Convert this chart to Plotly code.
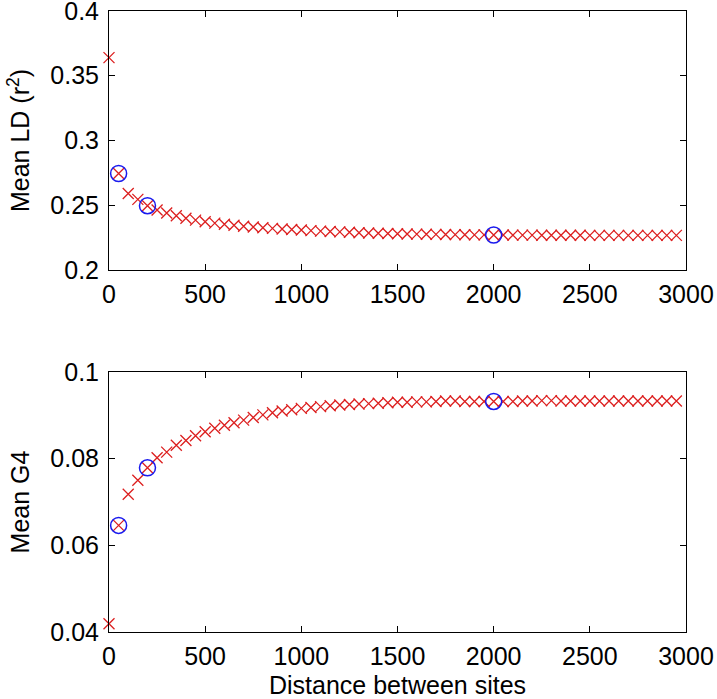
import plotly.graph_objects as go
from plotly.subplots import make_subplots

distance = list(range(0, 3000, 50))

mean_ld = [0.364, 0.2745, 0.259, 0.2545, 0.2496, 0.2463, 0.2440, 0.2418, 0.2400, 0.2385,
           0.2372, 0.2362, 0.2353, 0.2345, 0.2338, 0.2332, 0.2326, 0.2321, 0.2316, 0.2312,
           0.2308, 0.2304, 0.2300, 0.2297, 0.2294, 0.2291, 0.2288, 0.2286, 0.2284, 0.2282,
           0.2280, 0.2278, 0.2277, 0.2276, 0.2275, 0.2274, 0.2273, 0.2272, 0.2271, 0.2271,
           0.2270, 0.2270, 0.2269, 0.2269, 0.2269, 0.2268, 0.2268, 0.2268, 0.2268, 0.2268,
           0.2267, 0.2267, 0.2267, 0.2267, 0.2267, 0.2267, 0.2267, 0.2267, 0.2267, 0.2267]

mean_g4 = [0.0419, 0.0646, 0.0718, 0.0750, 0.0779, 0.0802, 0.0815, 0.0831, 0.0842, 0.0853,
           0.0862, 0.0870, 0.0877, 0.0883, 0.0889, 0.0895, 0.0901, 0.0906, 0.0910, 0.0913,
           0.0916, 0.0918, 0.0920, 0.0922, 0.0924, 0.0925, 0.0926, 0.0927, 0.0928, 0.0929,
           0.0930, 0.0930, 0.0931, 0.0931, 0.0932, 0.0933, 0.0933, 0.0932, 0.0932, 0.0932,
           0.0932, 0.0932, 0.0932, 0.0933, 0.0933, 0.0934, 0.0934, 0.0933, 0.0933, 0.0933,
           0.0933, 0.0933, 0.0933, 0.0933, 0.0933, 0.0933, 0.0933, 0.0933, 0.0933, 0.0933]

highlight_distance = [50, 200, 2000]
highlight_ld = [mean_ld[distance.index(d)] for d in highlight_distance]
highlight_g4 = [mean_g4[distance.index(d)] for d in highlight_distance]

x_ticks = [0, 500, 1000, 1500, 2000, 2500, 3000]
ld_ticks = [0.2, 0.25, 0.3, 0.35, 0.4]
ld_ticktext = ["0.2", "0.25", "0.3", "0.35", "0.4"]
g4_ticks = [0.04, 0.06, 0.08, 0.1]
g4_ticktext = ["0.04", "0.06", "0.08", "0.1"]

RED = "#dc1f1f"
BLUE = "#1a1aee"
FONT = "Liberation Sans, Arial, Helvetica, sans-serif"
TICK_SIZE = 25
TITLE_SIZE = 25

fig = make_subplots(rows=2, cols=1, vertical_spacing=0.165)

fig.add_trace(go.Scatter(x=distance, y=mean_ld, mode="markers", cliponaxis=False,
                         marker=dict(symbol="x-thin-open", size=11, color=RED,
                                     line=dict(color=RED, width=1.3))), row=1, col=1)
fig.add_trace(go.Scatter(x=highlight_distance, y=highlight_ld, mode="markers", cliponaxis=False,
                         marker=dict(symbol="circle-open", size=16, color=BLUE,
                                     line=dict(color=BLUE, width=1.5))), row=1, col=1)
fig.add_trace(go.Scatter(x=distance, y=mean_g4, mode="markers", cliponaxis=False,
                         marker=dict(symbol="x-thin-open", size=11, color=RED,
                                     line=dict(color=RED, width=1.3))), row=2, col=1)
fig.add_trace(go.Scatter(x=highlight_distance, y=highlight_g4, mode="markers", cliponaxis=False,
                         marker=dict(symbol="circle-open", size=16, color=BLUE,
                                     line=dict(color=BLUE, width=1.5))), row=2, col=1)

axis_common = dict(showline=True, linecolor="black", linewidth=1, mirror="ticks",
                   ticks="inside", ticklen=6, tickwidth=1, tickcolor="black",
                   showgrid=False, zeroline=False, ticklabeloverflow="allow",
                   tickfont=dict(family=FONT, size=TICK_SIZE, color="black"))

for r in (1, 2):
    fig.update_xaxes(range=[0, 3000], tickvals=x_ticks, ticktext=[str(v) for v in x_ticks],
                     ticklabelstandoff=2, row=r, col=1, **axis_common)

fig.update_yaxes(range=[0.2, 0.4], tickvals=ld_ticks, ticktext=ld_ticktext,
                 ticklabelstandoff=4, row=1, col=1,
                 title=dict(text="Mean LD (r<sup>2</sup>)",
                            font=dict(family=FONT, size=TITLE_SIZE, color="black"),
                            standoff=13), **axis_common)
fig.update_yaxes(range=[0.04, 0.1], tickvals=g4_ticks, ticktext=g4_ticktext,
                 ticklabelstandoff=4, row=2, col=1,
                 title=dict(text="Mean G4", font=dict(family=FONT, size=TITLE_SIZE, color="black"),
                            standoff=13), **axis_common)
fig.update_xaxes(title=dict(text="Distance between sites",
                            font=dict(family=FONT, size=TITLE_SIZE, color="black"),
                            standoff=15), row=2, col=1)

fig.update_layout(width=717, height=699, showlegend=False,
                  paper_bgcolor="white", plot_bgcolor="white",
                  margin=dict(l=109, r=31, t=11, b=67, autoexpand=False))
fig.update_yaxes(domain=[0.583, 1.0], row=1, col=1)
fig.update_yaxes(domain=[0.0, 0.4187], row=2, col=1)

# remove the browser's default page margin so the figure fills the window exactly
fig.write_html("out.html", config={"displayModeBar": False},
               post_script="document.body.style.margin='0';document.body.style.overflow='hidden';")
